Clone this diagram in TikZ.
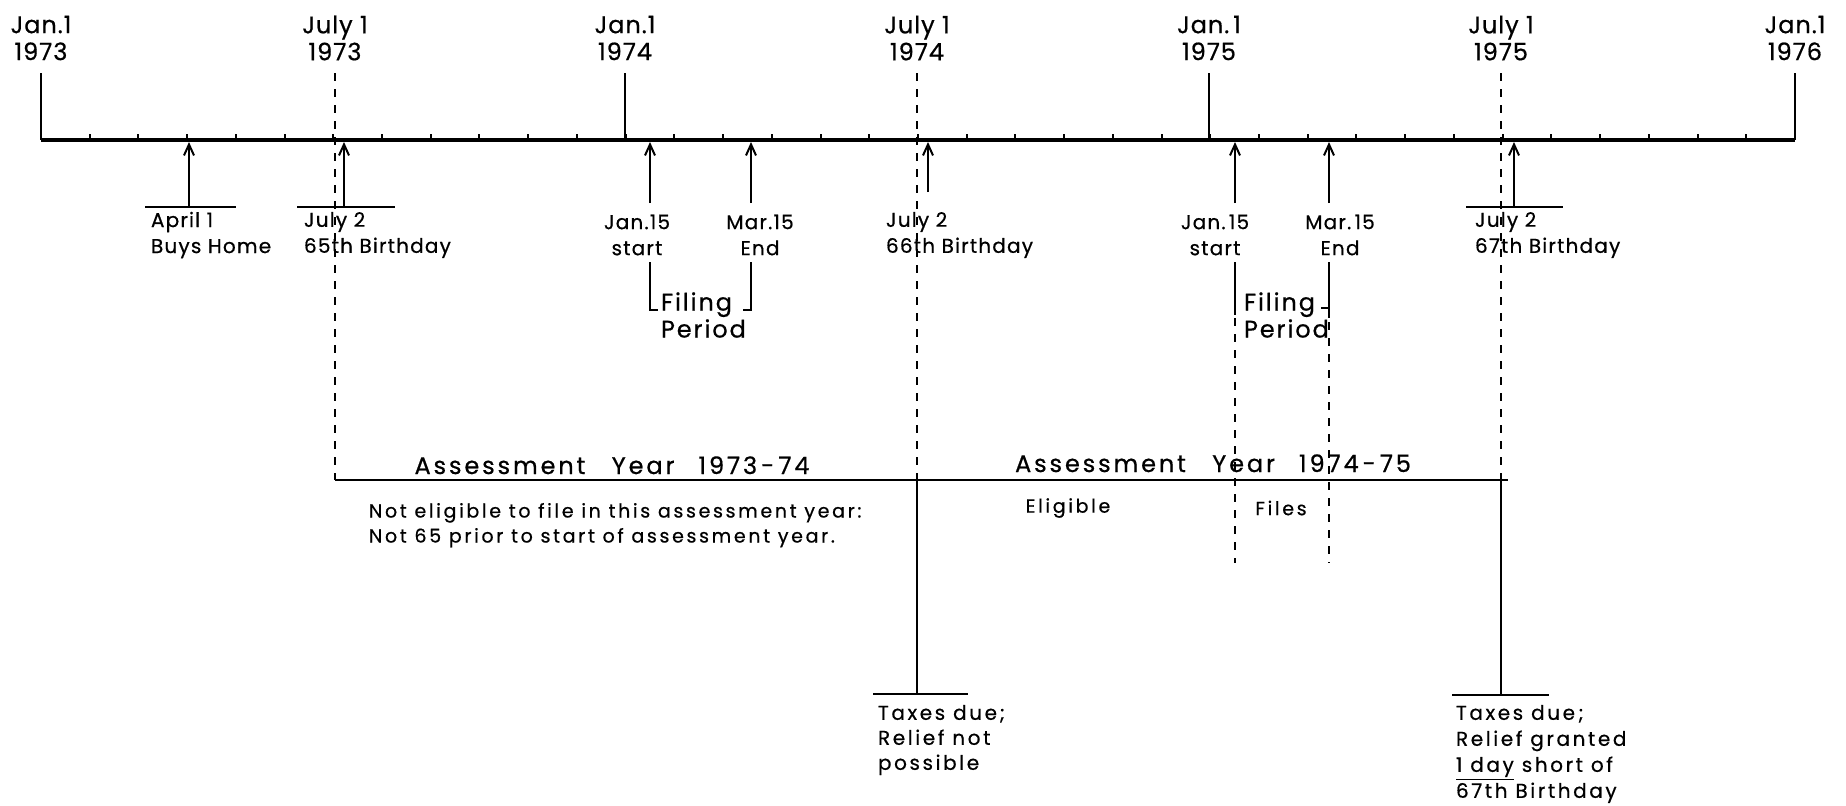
\documentclass[tikz,border=0pt]{standalone}
\usepackage{fontspec}
\setmainfont{Poppins}[FakeBold=0.6]
\usetikzlibrary{positioning,arrows.meta,calc}

\begin{document}
\begin{tikzpicture}[x=0.5pt,y=-0.5pt,line width=1pt]
\tikzset{
  big/.style={font=\fontsize{12}{13.5}\selectfont\addfontfeatures{LetterSpace=4},align=center,inner sep=0pt},
  lbl/.style={font=\fontsize{10}{13}\selectfont\addfontfeatures{LetterSpace=6},align=left,inner sep=0pt,anchor=west},
  mid/.style={font=\fontsize{10}{13}\selectfont\addfontfeatures{LetterSpace=6},align=center,inner sep=0pt},
  note/.style={font=\fontsize{9.5}{12.5}\selectfont\addfontfeatures{LetterSpace=14},align=left,inner sep=0pt,anchor=north west},
  ay/.style={font=\fontsize{12}{13}\selectfont\addfontfeatures{LetterSpace=12},inner sep=0pt,anchor=base},
  fp/.style={font=\fontsize{12}{13.5}\selectfont\addfontfeatures{LetterSpace=8},align=left,inner sep=0pt,anchor=west},
  ar/.style={-{Straight Barb[length=5.5pt,width=5pt]}},
  dsh/.style={dash pattern=on 4pt off 4pt},
  axis/.style={line width=1.8pt}
}
\useasboundingbox (0,0) rectangle (1846,805);

% dates along the top
\node[big] (j73) at (41,38) {Jan.1\\1973};
\node[big] (u73) at (335,38) {July 1\\1973};
\node[big] (j74) at (625,38) {Jan.1\\1974};
\node[big] (u74) at (917,38) {July 1\\1974};
\node[big] (j75) at (1209,38) {Jan.\,1\\1975};
\node[big] (u75) at (1501,38) {July 1\\1975};
\node[big] (j76) at (1795,38) {Jan.1\\1976};

% time axis, one small tick per month
\coordinate (ax0) at (41,140);
\coordinate (ax1) at (1795,140);
\draw[axis] (ax0) -- (ax1);
\foreach \k in {1,...,35} \draw (41+\k*48.72,140) -- ++(0,-6);
\foreach \n in {j73,j74,j75,j76} \draw ([yshift=-6pt]\n.south) -- (\n.south |- ax0);

% assessment years
\coordinate (ayL) at (335,480);
\coordinate (ayR) at (1508,480);
\draw[dsh] ([yshift=-6pt]u73.south) -- (ayL);
\draw[dsh] ([yshift=-6pt]u74.south) -- (u74.south |- ayL);
\draw[dsh] ([yshift=-6pt]u75.south) -- (u75.south |- ayL);
\draw[line width=1.3pt] (ayL) -- (ayR);
\node[ay] (ay1) at (612,474) {Assessment\hspace{1.1em}Year\hspace{1em}1973\,-\,74};
\node[ay] (ay2) at (1213,472) {Assessment\hspace{1.1em}Year\hspace{1em}1974\,-\,75};
\node[note] (ne) at (368,502) {Not eligible to file in this assessment year:\\Not 65 prior to start of assessment year.};
\node[note,anchor=center] (el) at (1068,508) {Eligible};
\node[note,anchor=center] (fi) at (1281,508) {Files};

% buys home
\coordinate (hmA) at (189,142);
\coordinate (hmB) at (189,207);
\draw[ar] (hmB) -- (hmA);
\draw ([xshift=-22pt]hmB) -- ([xshift=23.5pt]hmB);
\node[lbl] (hm) at (150,235) {April 1\\Buys Home};

% birthdays
\coordinate (b65A) at (344,142);
\coordinate (b65B) at (344,207);
\draw[ar] (b65B) -- (b65A);
\draw ([xshift=-23.5pt]b65B) -- ([xshift=25.5pt]b65B);
\node[lbl] (b65) at (303,235) {July 2\\65th Birthday};

\coordinate (b66A) at (928,142);
\coordinate (b66B) at (928,192);
\draw[ar] (b66B) -- (b66A);
\node[lbl] (b66) at (885,235) {July 2\\66th Birthday};

\coordinate (b67A) at (1514,142);
\coordinate (b67B) at (1514,207);
\draw[ar] (b67B) -- (b67A);
\draw ([xshift=-24pt]b67B) -- ([xshift=24.5pt]b67B);
\node[lbl] (b67) at (1474,235) {July 2\\67th Birthday};

% filing period 1974
\coordinate (s74A) at (650,142);
\coordinate (s74B) at (650,203);
\coordinate (e74A) at (751,142);
\coordinate (e74B) at (751,203);
\draw[ar] (s74B) -- (s74A);
\draw[ar] (e74B) -- (e74A);
\node[mid] (s74) at (637,235) {Jan.15\\start};
\node[mid] (e74) at (760,235) {Mar.15\\End};
\draw (650,262) -- (650,310) -- (658,310);
\draw (751,262) -- (751,310) -- (743,310);
\node[fp] (fp74) at (660,315) {Filing\\Period};

% filing period 1975
\coordinate (s75A) at (1235,142);
\coordinate (s75B) at (1235,203);
\coordinate (e75A) at (1329,142);
\coordinate (e75B) at (1329,203);
\draw[ar] (s75B) -- (s75A);
\draw[ar] (e75B) -- (e75A);
\node[mid] (s75) at (1215,235) {Jan.\,15\\start};
\node[mid] (e75) at (1340,235) {Mar.\,15\\End};
\draw (1235,262) -- (1235,315);
\draw (1329,262) -- (1329,318);
\draw (1329,308) -- (1321,308);
\draw[dsh] (1235,318) -- (1235,563);
\draw[dsh] (1329,322) -- (1329,563);
\node[fp] (fp75) at (1243,315) {Filing\\Period};

% taxes due
\coordinate (tx74) at (917,694);
\draw (u74.south |- ayL) -- (tx74);
\draw ([xshift=-22pt]tx74) -- ([xshift=25.5pt]tx74);
\node[note,font=\fontsize{10}{12.5}\selectfont\addfontfeatures{LetterSpace=13}] (tx74t) at (877,704) {Taxes due;\\Relief not\\possible};

\coordinate (tx75) at (1501,695);
\draw (u75.south |- ayL) -- (tx75);
\draw ([xshift=-24.5pt]tx75) -- ([xshift=24pt]tx75);
\node[note,font=\fontsize{10}{13}\selectfont\addfontfeatures{LetterSpace=13}] (tx75t) at (1455,704) {Taxes due\,;\\Relief granted\\\underline{1 day} short of\\67th Birthday};
\end{tikzpicture}
\end{document}
